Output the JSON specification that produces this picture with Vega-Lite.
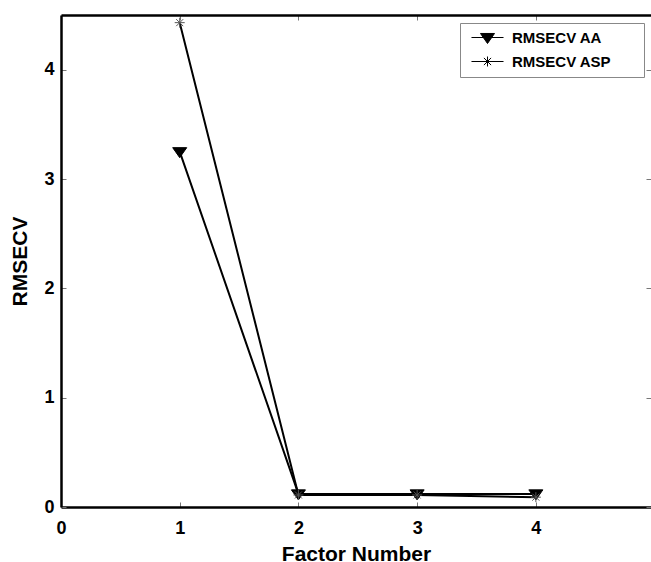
{
  "$schema": "https://vega.github.io/schema/vega-lite/v6.json",
  "autosize": "none",
  "padding": {"left": 61, "top": 15, "right": 0, "bottom": 55},
  "width": 590,
  "height": 492,
  "background": "white",
  "config": {
    "view": {"stroke": null},
    "font": "Liberation Sans",
    "axis": {
      "labelFont": "Liberation Sans",
      "labelFontWeight": "bold",
      "labelFontSize": 18,
      "labelColor": "black",
      "titleFont": "Liberation Sans",
      "titleFontWeight": "bold",
      "titleFontSize": 21,
      "titleColor": "black",
      "grid": false,
      "domainColor": "black",
      "domainWidth": 2.5,
      "tickColor": "#777777",
      "tickSize": -5,
      "tickWidth": 1
    }
  },
  "data": {
    "values": [
      {"Factor": 1, "RMSECV": 3.25, "series": "RMSECV AA"},
      {"Factor": 2, "RMSECV": 0.12, "series": "RMSECV AA"},
      {"Factor": 3, "RMSECV": 0.12, "series": "RMSECV AA"},
      {"Factor": 4, "RMSECV": 0.12, "series": "RMSECV AA"},
      {"Factor": 1, "RMSECV": 4.43, "series": "RMSECV ASP"},
      {"Factor": 2, "RMSECV": 0.11, "series": "RMSECV ASP"},
      {"Factor": 3, "RMSECV": 0.11, "series": "RMSECV ASP"},
      {"Factor": 4, "RMSECV": 0.09, "series": "RMSECV ASP"}
    ]
  },
  "layer": [
    {
      "mark": {"type": "line", "color": "black", "strokeWidth": 2},
      "encoding": {
        "x": {
          "field": "Factor", "type": "quantitative",
          "scale": {"domain": [0, 4.97], "nice": false, "zero": false},
          "axis": {"orient": "bottom", "values": [0, 1, 2, 3, 4], "title": "Factor Number", "labelPadding": 17, "titlePadding": 6, "labelFlush": false}
        },
        "y": {
          "field": "RMSECV", "type": "quantitative",
          "scale": {"domain": [0, 4.5], "nice": false},
          "axis": {"orient": "left", "values": [0, 1, 2, 3, 4], "title": "RMSECV", "labelPadding": 12, "titlePadding": 13, "labelFlush": false}
        },
        "detail": {"field": "series"}
      }
    },
    {
      "transform": [{"filter": "datum.series === 'RMSECV AA'"}],
      "mark": {"type": "point", "shape": "M-1.17,-0.67L1.17,-0.67L0,1Z", "size": 144, "fill": "black", "stroke": "black", "strokeWidth": 1, "opacity": 1},
      "encoding": {
        "x": {"field": "Factor", "type": "quantitative", "axis": null},
        "y": {"field": "RMSECV", "type": "quantitative", "axis": null}
      }
    },
    {
      "transform": [{"filter": "datum.series === 'RMSECV ASP'"}],
      "mark": {"type": "point", "shape": "M-1,0L1,0M0,-1L0,1M-0.7,-0.7L0.7,0.7M-0.7,0.7L0.7,-0.7", "size": 100, "filled": false, "stroke": "#555555", "strokeWidth": 1, "opacity": 1},
      "encoding": {
        "x": {"field": "Factor", "type": "quantitative", "axis": null},
        "y": {"field": "RMSECV", "type": "quantitative", "axis": null}
      }
    },
    {
      "mark": {"type": "point", "size": 144, "filled": false, "color": "black", "strokeWidth": 1, "opacity": 0},
      "encoding": {
        "x": {
          "field": "Factor", "type": "quantitative",
          "axis": {"orient": "top", "values": [0, 1, 2, 3, 4], "labels": false, "title": null, "domain": true}
        },
        "y": {
          "field": "RMSECV", "type": "quantitative",
          "axis": {"orient": "right", "values": [0, 1, 2, 3, 4], "labels": false, "title": null, "domain": false}
        },
        "fill": {
          "field": "series", "type": "nominal",
          "scale": {"domain": ["RMSECV AA", "RMSECV ASP"], "range": ["black", "black"]},
          "legend": null
        },
        "shape": {
          "field": "series", "type": "nominal",
          "scale": {
            "domain": ["RMSECV AA", "RMSECV ASP"],
            "range": ["M-2.67,0L2.67,0M-1.17,-0.67L1.17,-0.67L0,1Z", "M-2.67,0L2.67,0M-0.83,0L0.83,0M0,-0.83L0,0.83M-0.6,-0.6L0.6,0.6M-0.6,0.6L0.6,-0.6"]
          },
          "legend": {
            "title": "\u2003",
            "titleOrient": "right",
            "titlePadding": 26,
            "titleFontSize": 4,
            "orient": "none",
            "legendX": 399,
            "legendY": 8,
            "padding": 7,
            "rowPadding": 8,
            "strokeColor": "#888888",
            "fillColor": "white",
            "symbolOffset": 13,
            "labelOffset": 17,
            "symbolSize": 144,
            "symbolOpacity": 1,
            "symbolFillColor": "black",
            "symbolStrokeColor": "black",
            "symbolStrokeWidth": 1,
            "labelFont": "Liberation Sans",
            "labelFontWeight": "bold",
            "labelFontSize": 15,
            "labelColor": "black"
          }
        }
      }
    }
  ],
  "resolve": {"axis": {"x": "independent", "y": "independent"}, "scale": {"shape": "independent", "fill": "independent"}}
}
